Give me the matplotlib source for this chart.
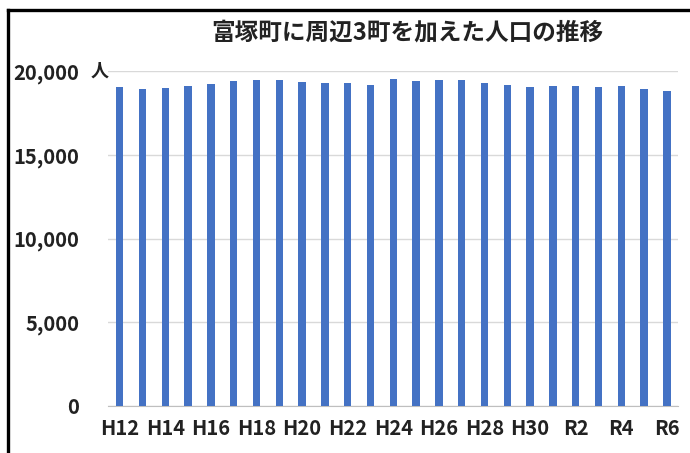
import matplotlib
matplotlib.use("Agg")
import matplotlib.pyplot as plt
from matplotlib.lines import Line2D

plt.rcParams['font.family'] = ['Noto Sans CJK JP', 'DejaVu Sans']

# 年度ごとの人口（富塚町＋周辺3町）
years = ['H12', 'H13', 'H14', 'H15', 'H16', 'H17', 'H18', 'H19', 'H20', 'H21',
         'H22', 'H23', 'H24', 'H25', 'H26', 'H27', 'H28', 'H29', 'H30', 'R1',
         'R2', 'R3', 'R4', 'R5', 'R6']
population = [19060, 18940, 18980, 19100, 19240, 19380, 19440, 19440, 19340, 19300,
              19300, 19150, 19500, 19380, 19440, 19440, 19300, 19200, 19060, 19120,
              19120, 19080, 19120, 18940, 18800]
yticks = [0, 5000, 10000, 15000, 20000]

fig = plt.figure(figsize=(6.9, 4.53), dpi=100)
ax = fig.add_axes([0.157, 0.104, 0.826, 0.739])

x = range(len(years))
ax.bar(x, population, width=0.33, color='#4472C4', zorder=3)

ax.set_xlim(-0.5, len(years) - 0.5)
ax.set_ylim(0, 20000)
ax.set_yticks(yticks)
ax.set_yticklabels([f'{v:,}' for v in yticks])
ax.set_xticks(list(x)[::2])
ax.set_xticklabels(years[::2])

ax.grid(axis='y', color='#d9d9d9', linewidth=1, zorder=0)
for s in ['left', 'right', 'top']:
    ax.spines[s].set_visible(False)
ax.spines['bottom'].set_color('#bfbfbf')
ax.tick_params(axis='both', length=0, labelsize=14.5, colors='#222222')
ax.tick_params(axis='y', pad=21)
ax.tick_params(axis='x', pad=9)
for lbl in ax.get_xticklabels() + ax.get_yticklabels():
    lbl.set_fontweight('bold')

# 単位
ax.text(0.0, 1.0, '人', transform=ax.transAxes, ha='right', va='center',
        fontsize=13, fontweight='bold', color='#222222')

fig.text(0.591, 0.929, '富塚町に周辺3町を加えた人口の推移', ha='center', va='center',
         fontsize=17, fontweight='bold', color='#222222')

# 外枠
fig.add_artist(Line2D([8 / 690, 8 / 690], [0, 1 - 10 / 453], color='black', linewidth=2.4))
fig.add_artist(Line2D([8 / 690, 1], [1 - 10 / 453, 1 - 10 / 453], color='black', linewidth=2.4))

fig.savefig('out.png', dpi=100)
